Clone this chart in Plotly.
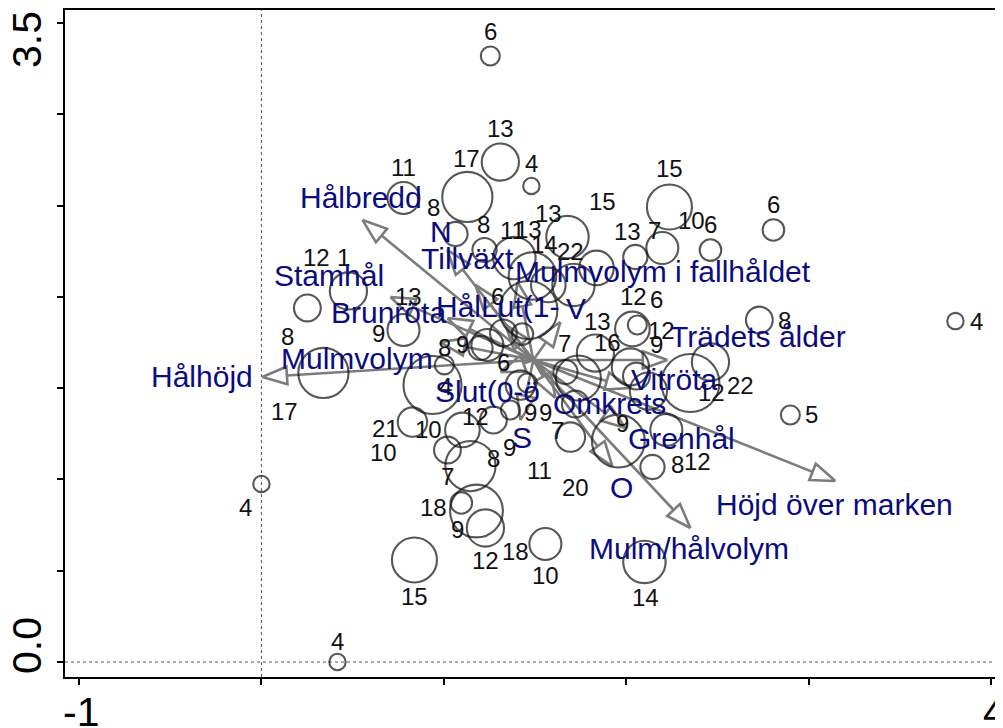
import numpy as np
import plotly.graph_objects as go

# ---------------- data: site scores (circles) ----------------
site_x = [1.255, 1.310, 1.480, 1.129, 0.779, 1.064, 1.223, 2.237, 2.462, 2.198,
          2.050, 1.837, 1.678, 2.807, 2.730, 3.805, 2.900, 0.000, 0.417, 0.839,
          2.100, 1.557, 0.477, 0.252, 0.340, 0.779, 0.938, 1.003, 0.828, 1.020,
          1.102, 1.272, 1.365, 1.420, 1.458, 1.239, 1.201, 1.327, 1.431, 1.464,
          1.387, 1.486, 1.573, 1.711, 2.034, 2.061, 1.831, 1.738, 1.667, 2.023,
          2.056, 2.122, 2.352, 2.462, 1.957, 1.694, 2.220, 2.144, 1.721, 1.096,
          1.179, 1.228, 1.146]
site_y = [3.319, 2.738, 2.607, 2.547, 2.541, 2.344, 2.256, 2.492, 2.256, 2.267,
          2.218, 2.158, 2.327, 2.366, 1.873, 1.867, 1.353, 0.975, 0.000, 0.559,
          0.548, 0.646, 2.032, 1.939, 1.583, 1.818, 1.517, 1.627, 1.314, 1.161,
          1.271, 1.325, 1.380, 1.517, 1.528, 1.736, 1.720, 1.802, 1.796, 1.928,
          2.212, 2.114, 2.065, 2.065, 1.824, 1.846, 1.692, 1.555, 1.588, 1.616,
          1.566, 1.484, 1.528, 1.643, 1.210, 1.232, 1.271, 1.068, 1.413, 0.871,
          0.827, 0.734, 1.073]
site_value = [5, 12, 4, 17, 10, 7, 7, 15, 6, 10,
              7, 11, 14, 6, 8, 4, 5, 4, 4, 15,
              14, 10, 12, 8, 17, 10, 20, 5, 9, 8,
              11, 8, 5, 9, 5, 10, 7, 8, 6, 20,
              14, 16, 11, 14, 11, 5, 12, 15, 7, 12,
              8, 12, 20, 12, 18, 9, 10, 7, 8, 6,
              18, 12, 17]

# site labels (which site, text)
label_site = [0, 1, 2, 3, 4, 5, 6, 7, 8, 9, 10, 11, 12, 13, 14, 15, 16, 17, 18, 19,
              20, 21, 21, 22, 22, 23, 24, 25, 25, 27, 27, 28, 28, 29, 30, 31, 32, 33,
              35, 36, 37, 40, 41, 42, 43, 44, 45, 45, 46, 47, 48, 49, 52, 53, 54, 54,
              55, 55, 56, 57, 59, 60, 61, 62, 62, 12]
label_text = ["6", "13", "4", "17", "11", "8", "8", "15", "6", "10", "7", "13", "15", "6",
              "8", "4", "5", "4", "4", "15", "14", "10", "18", "12", "1", "8", "17", "13",
              "9", "8", "4", "21", "10", "7", "10", "12", "9", "9", "6", "9", "6", "11",
              "13", "14", "22", "12", "6", "12", "13", "16", "7", "9", "22", "12", "9",
              "20", "7", "11", "12", "8", "9", "18", "12", "8", "9", "13"]
# label placement offsets in pixels (style)
label_dx = [0, 0, 0, -1, 0, -22, -1, 0, 0, 29, 19, 31, 35, 0, 25, 21, 21, -16, 0, 0,
            1, 0, -30, -32, -5, -20, -39, 5, -25, 0, 1, -27, -29, 0, -34, -18, 20, 25,
            16, -18, -6, -2, -4, -4, -3, 1, 19, 24, 2, 29, -1, 26, 50, 1, 4, -43,
            -13, -31, 31, 25, -4, -43, 0, 23, 39, -19]
label_dy = [-24, -34, -22, -38, -31, -26, -26, -38, -26, -28, -27, -36, -36, -25, 0, 0, 0, 24, -21, 37,
            36, 31, 7, -33, -33, 29, 39, -34, 3, -17, 22, 6, 30, 26, 0, -4, 2, 27,
            17, -3, -36, -28, -46, -40, -33, -32, -25, 6, -32, -36, -29, -22, 2, 30, -18, 46,
            -7, 33, 32, -2, 27, -4, 33, -8, -19, -24]

# ---------------- data: environmental variables (arrows) ----------------
arrow_origin = (1.491, 1.654)
env_names = ["Hålbredd", "Stamhål", "Brunröta", "Mulmvolym", "Hålhöjd", "Tillväxt",
             "HålLut(1-", "Mulmvolym i fallhåldet", "Trädets ålder", "Vitröta", "Omkrets",
             "Grenhål", "Höjd över marken", "Mulm/hålvolym", "Slut(0-ö", "O", "S", "N", "V"]
env_x = [0.554, 0.707, 1.020, 0.981, 0.005, 1.173, 1.338, 1.404, 2.226, 2.023, 1.612,
         1.996, 3.147, 2.352, 1.310, 1.924, 1.420, 1.020, 1.639]
env_y = [2.421, 1.999, 1.884, 1.752, 1.561, 2.065, 1.846, 2.081, 1.654, 1.501, 1.446,
         1.281, 0.991, 0.734, 1.588, 1.073, 1.325, 2.256, 1.862]
env_dx = [-1, -61, -59, -83, -60, -8, -8, 146, 91, 44, 54, 56, -1, -1, -13, 9, 2, -6, 16]
env_dy = [-22, -21, -5, 16, 0, -26, -18, -11, -23, -8, 6, 10, 23, 21, 19, 21, 17, -19, -14]

# axis ticks and the two labelled extremes
x_ticks = [-1, 0, 1, 2, 3, 4]
y_ticks = [0, 0.5, 1, 1.5, 2, 2.5, 3, 3.5]
x_tick_labels = {-1: "-1", 4: "4"}
y_tick_labels = {0: "0.0", 3.5: "3.5"}

# ---------------- figure ----------------
X_RANGE = [-1.0768, 4.0658]
Y_RANGE = [-0.0821, 3.5707]
FONT = "Liberation Sans, Arial, sans-serif"
ARROW_COL = "#7c7c7c"
TEXT_BLUE = "#0b0b80"

fig = go.Figure()

# dotted zero lines
fig.add_shape(type="line", x0=0, x1=0, y0=Y_RANGE[0], y1=Y_RANGE[1],
              line=dict(color="#555", width=1, dash="dot"), layer="below")
fig.add_shape(type="line", x0=X_RANGE[0], x1=X_RANGE[1], y0=0, y1=0,
              line=dict(color="#555", width=1, dash="dot"), layer="below")

# arrows: shafts and open heads
ox, oy = arrow_origin
head_len = 0.135
head_half = 0.048
sx, sy, hx, hy = [], [], [], []
for tx, ty in zip(env_x, env_y):
    v = np.array([tx - ox, ty - oy])
    u = v / np.linalg.norm(v)
    p = np.array([-u[1], u[0]])
    base = np.array([tx, ty]) - head_len * u
    sx += [ox, base[0], None]
    sy += [oy, base[1], None]
    a = base + head_half * p
    b = base - head_half * p
    hx += [tx, a[0], b[0], tx, None]
    hy += [ty, a[1], b[1], ty, None]

fig.add_trace(go.Scatter(x=sx, y=sy, mode="lines",
                         line=dict(color=ARROW_COL, width=2.6), hoverinfo="skip"))
fig.add_trace(go.Scatter(x=hx, y=hy, mode="lines",
                         line=dict(color=ARROW_COL, width=2.6), hoverinfo="skip"))

# circles
sizes = [6 + 2.6 * v for v in site_value]
fig.add_trace(go.Scatter(
    x=site_x, y=site_y, mode="markers",
    marker=dict(symbol="circle", size=sizes, color="rgba(0,0,0,0)",
                line=dict(color="#111111", width=2.1)),
    hoverinfo="skip"))

annotations = []
for s, t, dx, dy in zip(label_site, label_text, label_dx, label_dy):
    annotations.append(dict(x=site_x[s], y=site_y[s], text=t, showarrow=False,
                            xshift=dx, yshift=-dy, xanchor="center", yanchor="middle",
                            font=dict(family=FONT, size=24, color="#111")))
for name, tx, ty, dx, dy in zip(env_names, env_x, env_y, env_dx, env_dy):
    annotations.append(dict(x=tx, y=ty, text=name, showarrow=False,
                            xshift=dx, yshift=-dy, xanchor="center", yanchor="middle",
                            font=dict(family=FONT, size=30, color=TEXT_BLUE)))

# tick labels (shifted inwards as in the original)
tick_font = dict(family=FONT, size=41, color="black")
for v, t in x_tick_labels.items():
    annotations.append(dict(x=v, y=-0.0525, xref="x", yref="paper", text=t,
                            showarrow=False, xanchor="center", yanchor="middle",
                            xshift=3 if v == x_ticks[-1] else 2, font=tick_font))
for v, t in y_tick_labels.items():
    yp = 0.955 if v == y_ticks[-1] else 0.0465
    annotations.append(dict(x=-0.0405, y=yp, xref="paper", yref="paper", text=t,
                            showarrow=False, xanchor="center", yanchor="middle",
                            textangle=-90, font=tick_font))

# the page body keeps an 8 px default margin, so the figure is 8 px smaller
fig.update_layout(
    width=995, height=720,
    margin=dict(l=57, r=0, t=2, b=51, autoexpand=False),
    paper_bgcolor="white", plot_bgcolor="white",
    showlegend=False,
    annotations=annotations,
    xaxis=dict(range=X_RANGE, tickvals=x_ticks, showticklabels=False,
               ticks="outside", ticklen=6, tickwidth=2, tickcolor="black",
               showline=True, linewidth=2, linecolor="black", mirror=True,
               showgrid=False, zeroline=False, automargin=False),
    yaxis=dict(range=Y_RANGE, tickvals=y_ticks, showticklabels=False,
               ticks="outside", ticklen=6, tickwidth=2, tickcolor="black",
               showline=True, linewidth=2, linecolor="black", mirror=False,
               showgrid=False, zeroline=False, automargin=False),
)

fig.write_html("out.html")
